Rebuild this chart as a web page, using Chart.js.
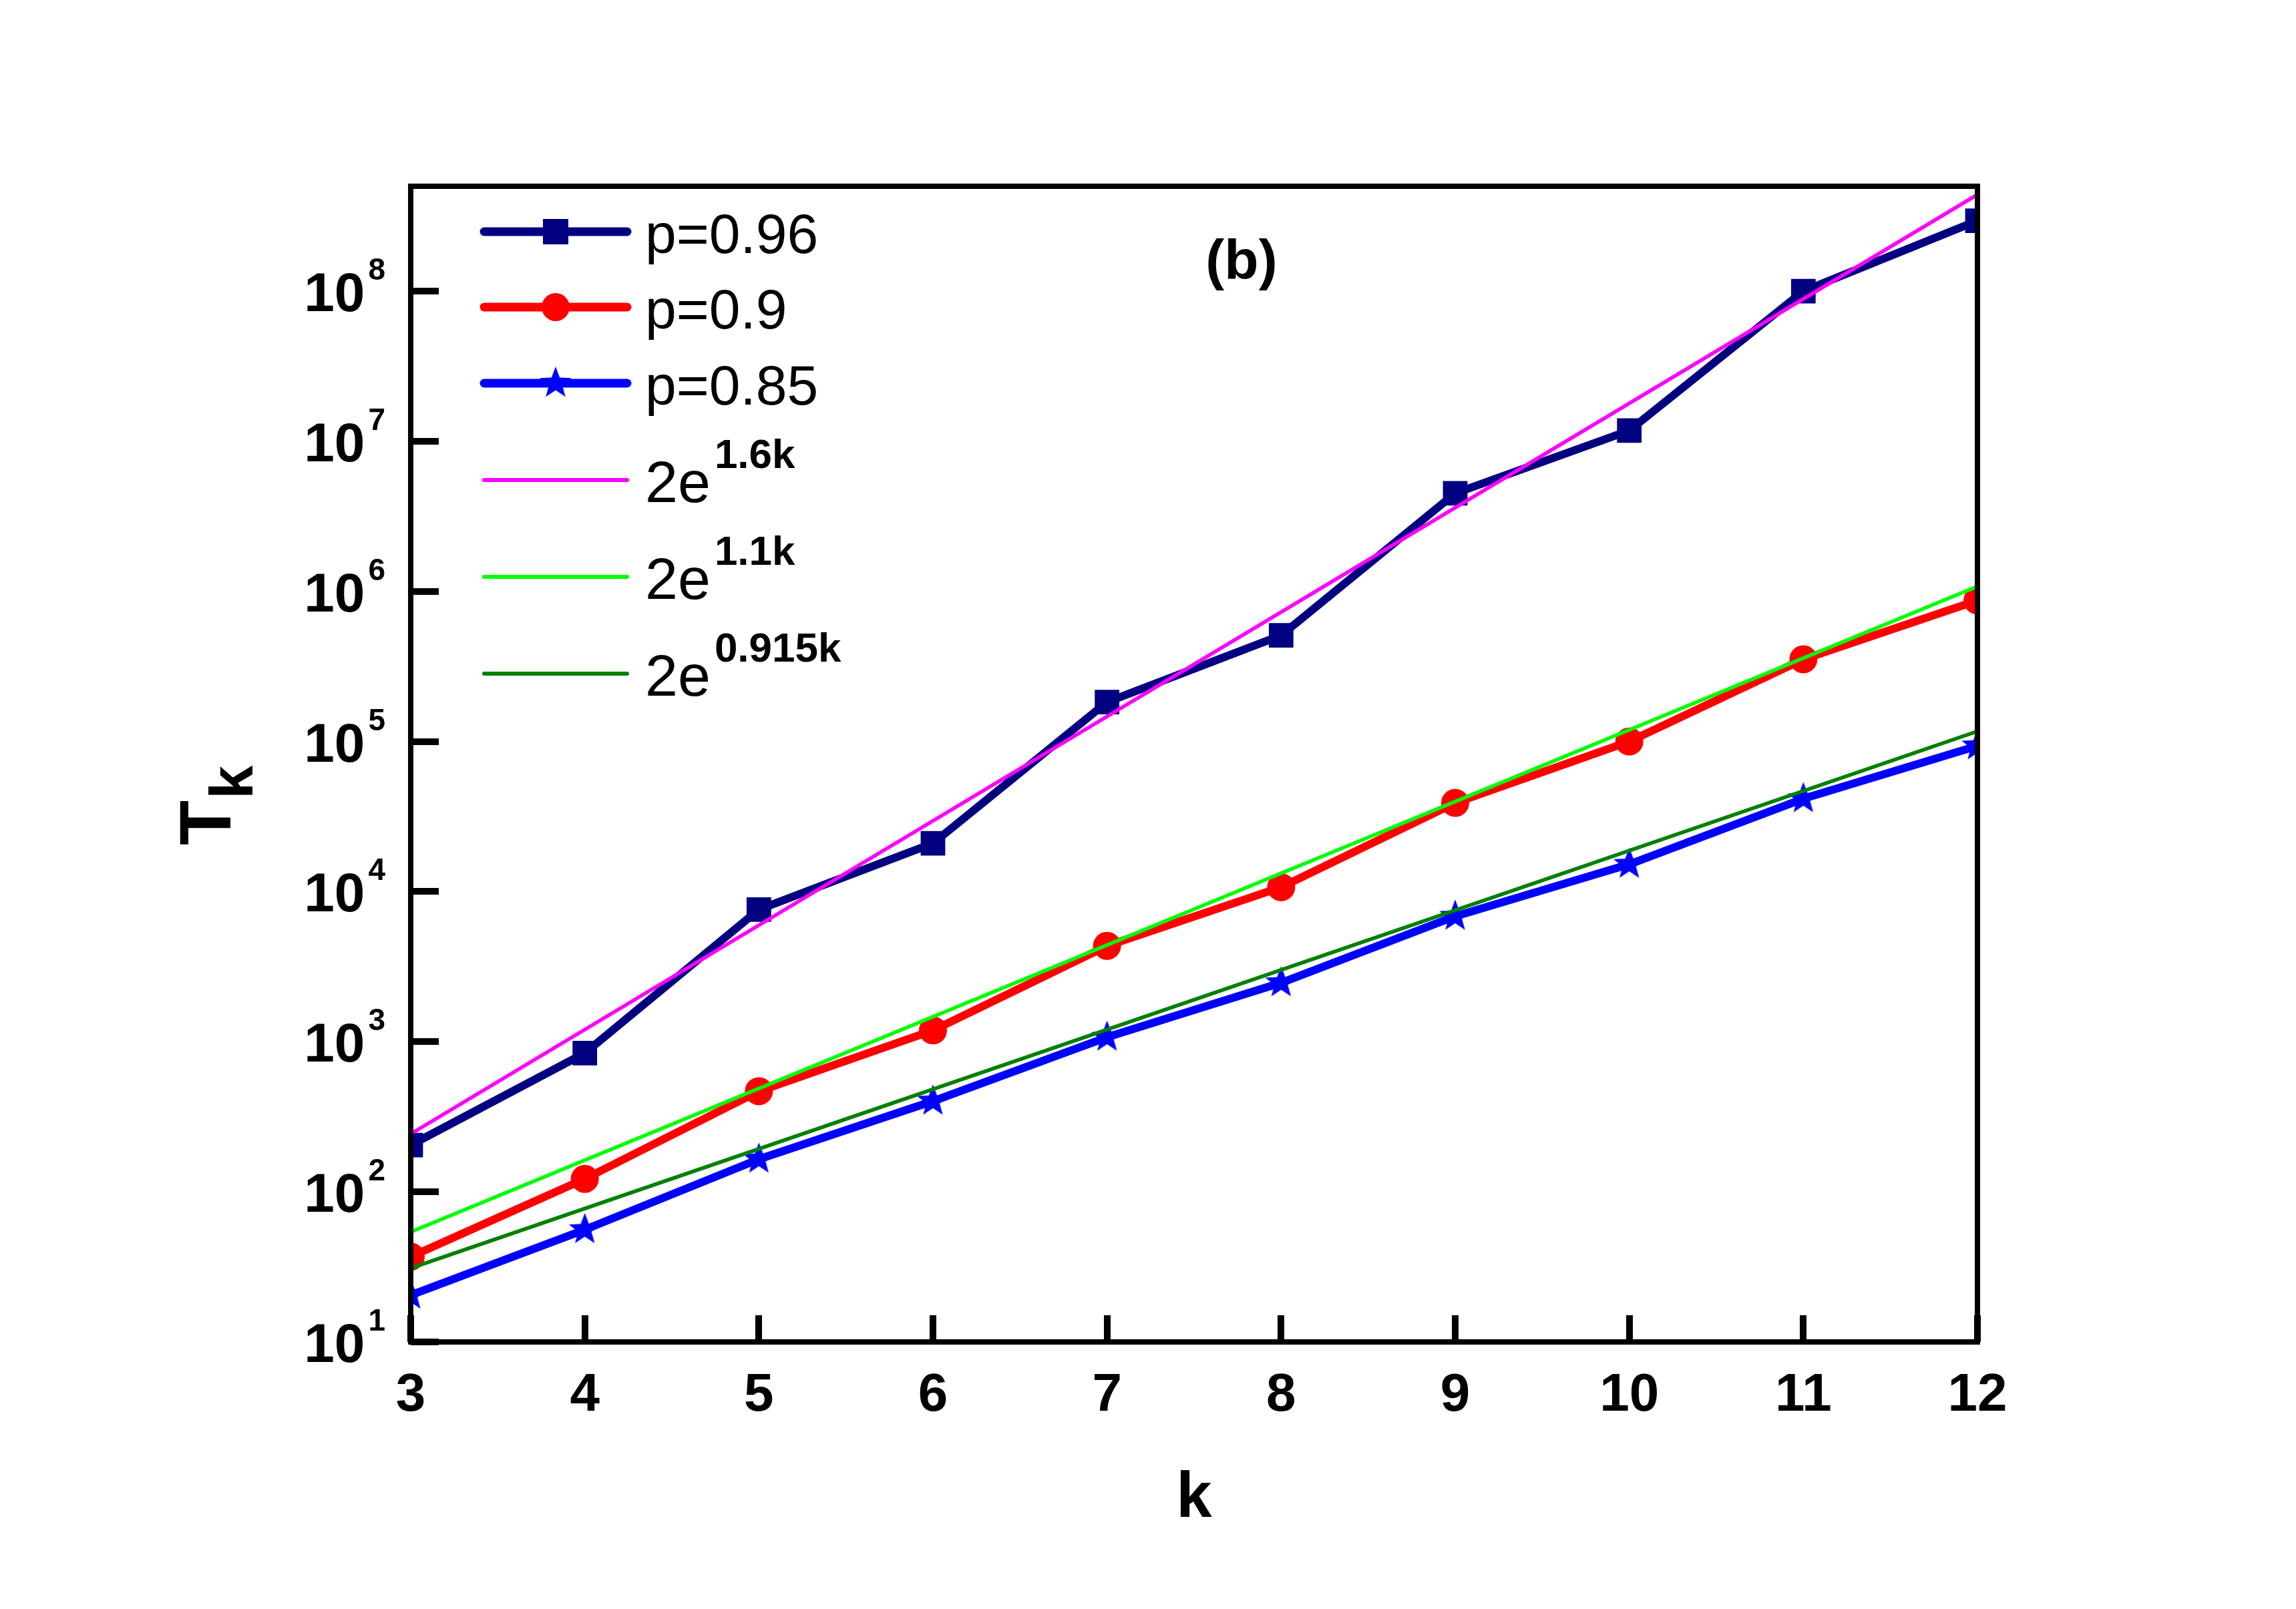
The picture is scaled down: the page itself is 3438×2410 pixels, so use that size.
<!DOCTYPE html>
<html>
<head>
<meta charset="utf-8">
<script src="https://cdn.jsdelivr.net/npm/chart.js@4.4.1/dist/chart.umd.min.js"></script>
<style>
  html, body { margin: 0; padding: 0; background: #fff; }
  #wrap { width: 3438px; height: 2410px; }
</style>
</head>
<body>
<div id="wrap"><canvas id="tkChart"></canvas></div>
<script>
// values
const kValues = [3, 4, 5, 6, 7, 8, 9, 10, 11, 12];
const tP096 = [205, 840, 7600, 21000, 183000, 510000, 4.5e6, 1.18e7, 1.0e8, 2.95e8];
const tP090 = [37, 122, 468, 1190, 4350, 10700, 39000, 1.0e5, 3.53e5, 8.7e5];
const tP085 = [20.5, 56, 165, 402, 1072, 2470, 6850, 15200, 41600, 93500];

// fitted lines, end points at k = 3 and k = 12
const fitK = [3, 12];
const fit16 = [243, 4.4e8];
const fit11 = [54, 1.08e6];
const fit0915 = [31, 1.17e5];

const xTicks = [3, 4, 5, 6, 7, 8, 9, 10, 11, 12];
const yTickExps = [1, 2, 3, 4, 5, 6, 7, 8];

const FONT = '"Liberation Sans", Arial, sans-serif';

function pairs(xs, ys) {
    return xs.map((x, i) => ({ x: x, y: ys[i] }));
}

function makeStar(r, color) {
    const c = document.createElement('canvas');
    c.width = c.height = Math.ceil(2 * r + 2);
    const g = c.getContext('2d');
    g.fillStyle = color;
    g.beginPath();
    for (let i = 0; i < 10; i++) {
        const rad = i % 2 === 0 ? r : r * 0.42;
        const a = -Math.PI / 2 + i * Math.PI / 5;
        const px = c.width / 2 + rad * Math.cos(a);
        const py = c.height / 2 + rad * Math.sin(a);
        if (i === 0) g.moveTo(px, py); else g.lineTo(px, py);
    }
    g.closePath();
    g.fill();
    return c;
}

const starImg = makeStar(25, '#0000FF');

// text with a superscript part, left aligned at x
function drawSup(ctx, x, y, base, sup, baseFont, supFont, supRise, gap) {
    ctx.font = baseFont;
    ctx.textAlign = 'left';
    ctx.fillText(base, x, y);
    const w = ctx.measureText(base).width;
    ctx.font = supFont;
    ctx.fillText(sup, x + w + gap, y - supRise);
}

const framePlugin = {
    id: 'frame',
    afterDraw(chart) {
        const ctx = chart.ctx;
        const area = chart.chartArea;
        const xs = chart.scales.x;
        const ys = chart.scales.y;
        ctx.save();
        ctx.setLineDash([]);
        ctx.globalAlpha = 1;
        ctx.globalCompositeOperation = 'source-over';
        ctx.strokeStyle = '#000000';
        ctx.fillStyle = '#000000';

        // inward ticks
        for (let i = 0; i < xTicks.length; i++) {
            const px = Math.round(xs.getPixelForValue(xTicks[i]));
            ctx.fillRect(px - 5, Math.round(area.bottom) - 40, 10, 40);
        }
        for (let i = 0; i < yTickExps.length; i++) {
            const py = Math.round(ys.getPixelForValue(Math.pow(10, yTickExps[i])));
            ctx.fillRect(Math.round(area.left), py - 5, 42, 10);
        }

        // frame
        ctx.lineWidth = 8;
        ctx.lineJoin = 'miter';
        ctx.strokeRect(area.left, area.top, area.right - area.left, area.bottom - area.top);

        // x tick labels
        ctx.font = 'bold 80px ' + FONT;
        ctx.textAlign = 'center';
        ctx.textBaseline = 'alphabetic';
        xTicks.forEach(v => {
            ctx.fillText(String(v), xs.getPixelForValue(v), area.bottom + 103);
        });

        // y tick labels 10^n
        yTickExps.forEach(e => {
            const py = ys.getPixelForValue(Math.pow(10, e));
            ctx.font = 'bold 46px ' + FONT;
            const sw = ctx.measureText(String(e)).width;
            ctx.textAlign = 'right';
            ctx.fillText(String(e), area.left - 38, py - 17);
            ctx.font = 'bold 82px ' + FONT;
            ctx.fillText('10', area.left - 38 - sw - 5, py + 30);
        });

        // axis titles
        ctx.font = 'bold 96px ' + FONT;
        ctx.textAlign = 'center';
        ctx.fillText('k', (area.left + area.right) / 2, 2272);

        ctx.save();
        ctx.translate(345, 1266);
        ctx.rotate(-Math.PI / 2);
        ctx.textAlign = 'left';
        ctx.font = 'bold 110px ' + FONT;
        ctx.fillText('T', 0, 0);
        const tw = ctx.measureText('T').width;
        ctx.font = 'bold 90px ' + FONT;
        ctx.fillText('k', tw + 2, 33);
        ctx.restore();

        // panel label
        ctx.font = 'bold 84px ' + FONT;
        ctx.textAlign = 'center';
        ctx.fillText('(b)', 1859, 418);

        // legend
        const lx0 = 725, lx1 = 939, lmid = 832, tx = 966;
        ctx.lineCap = 'round';
        const rows = [
            { y: 347, color: '#000080', w: 13, mark: 'rect', label: 'p=0.96' },
            { y: 460, color: '#FF0000', w: 13, mark: 'circle', label: 'p=0.9' },
            { y: 574, color: '#0000FF', w: 13, mark: 'star', label: 'p=0.85' },
            { y: 719, color: '#FF00FF', w: 6, sup: '1.6k' },
            { y: 864, color: '#00FF00', w: 6, sup: '1.1k' },
            { y: 1009, color: '#008000', w: 6, sup: '0.915k' }
        ];
        rows.forEach(r => {
            ctx.strokeStyle = r.color;
            ctx.lineWidth = r.w;
            ctx.beginPath();
            ctx.moveTo(lx0, r.y);
            ctx.lineTo(lx1, r.y);
            ctx.stroke();
            ctx.fillStyle = r.color;
            if (r.mark === 'rect') {
                ctx.fillRect(lmid - 19, r.y - 19, 38, 38);
            } else if (r.mark === 'circle') {
                ctx.beginPath();
                ctx.arc(lmid, r.y, 21, 0, Math.PI * 2);
                ctx.fill();
            } else if (r.mark === 'star') {
                ctx.drawImage(starImg, lmid - starImg.width / 2, r.y - starImg.height / 2);
            }
            ctx.fillStyle = '#000';
            if (r.label) {
                ctx.font = '84px ' + FONT;
                ctx.textAlign = 'left';
                ctx.fillText(r.label, tx, r.y + 32);
            } else {
                drawSup(ctx, tx, r.y + 33, '2e', r.sup,
                    '88px ' + FONT, 'bold 62px ' + FONT, 51, 6);
            }
        });
        ctx.restore();
    }
};

const ctx = document.getElementById('tkChart').getContext('2d');
const tkChart = new Chart(ctx, {
    type: 'line',
    data: {
        datasets: [
            { label: '2e^{1.6k}', data: pairs(fitK, fit16), borderColor: '#FF00FF', borderWidth: 5.5, pointRadius: 0, order: 0 },
            { label: '2e^{1.1k}', data: pairs(fitK, fit11), borderColor: '#00FF00', borderWidth: 5.5, pointRadius: 0, order: 0 },
            { label: '2e^{0.915k}', data: pairs(fitK, fit0915), borderColor: '#008000', borderWidth: 5.5, pointRadius: 0, order: 0 },
            {
                label: 'p=0.96', data: pairs(kValues, tP096), borderColor: '#000080',
                backgroundColor: '#000080', borderWidth: 12, pointStyle: 'rect',
                pointRadius: 26, pointBorderWidth: 0, order: 1
            },
            {
                label: 'p=0.9', data: pairs(kValues, tP090), borderColor: '#FF0000',
                backgroundColor: '#FF0000', borderWidth: 12, pointStyle: 'circle',
                pointRadius: 21, pointBorderWidth: 0, order: 1
            },
            {
                label: 'p=0.85', data: pairs(kValues, tP085), borderColor: '#0000FF',
                backgroundColor: '#0000FF', borderWidth: 12, pointStyle: starImg,
                pointRadius: 25, pointBorderWidth: 0, order: 1
            }
        ]
    },
    options: {
        responsive: true,
        maintainAspectRatio: false,
        devicePixelRatio: 1,
        animation: false,
        clip: 0,
        layout: { padding: { left: 615, right: 477, top: 279, bottom: 400 } },
        elements: { line: { tension: 0, fill: false, borderJoinStyle: 'round' } },
        scales: {
            x: { type: 'linear', min: 3, max: 12, display: false },
            y: { type: 'logarithmic', min: 10, max: 5.0e8, display: false }
        },
        plugins: {
            legend: { display: false },
            tooltip: { enabled: false }
        }
    },
    plugins: [framePlugin]
});
</script>
</body>
</html>
